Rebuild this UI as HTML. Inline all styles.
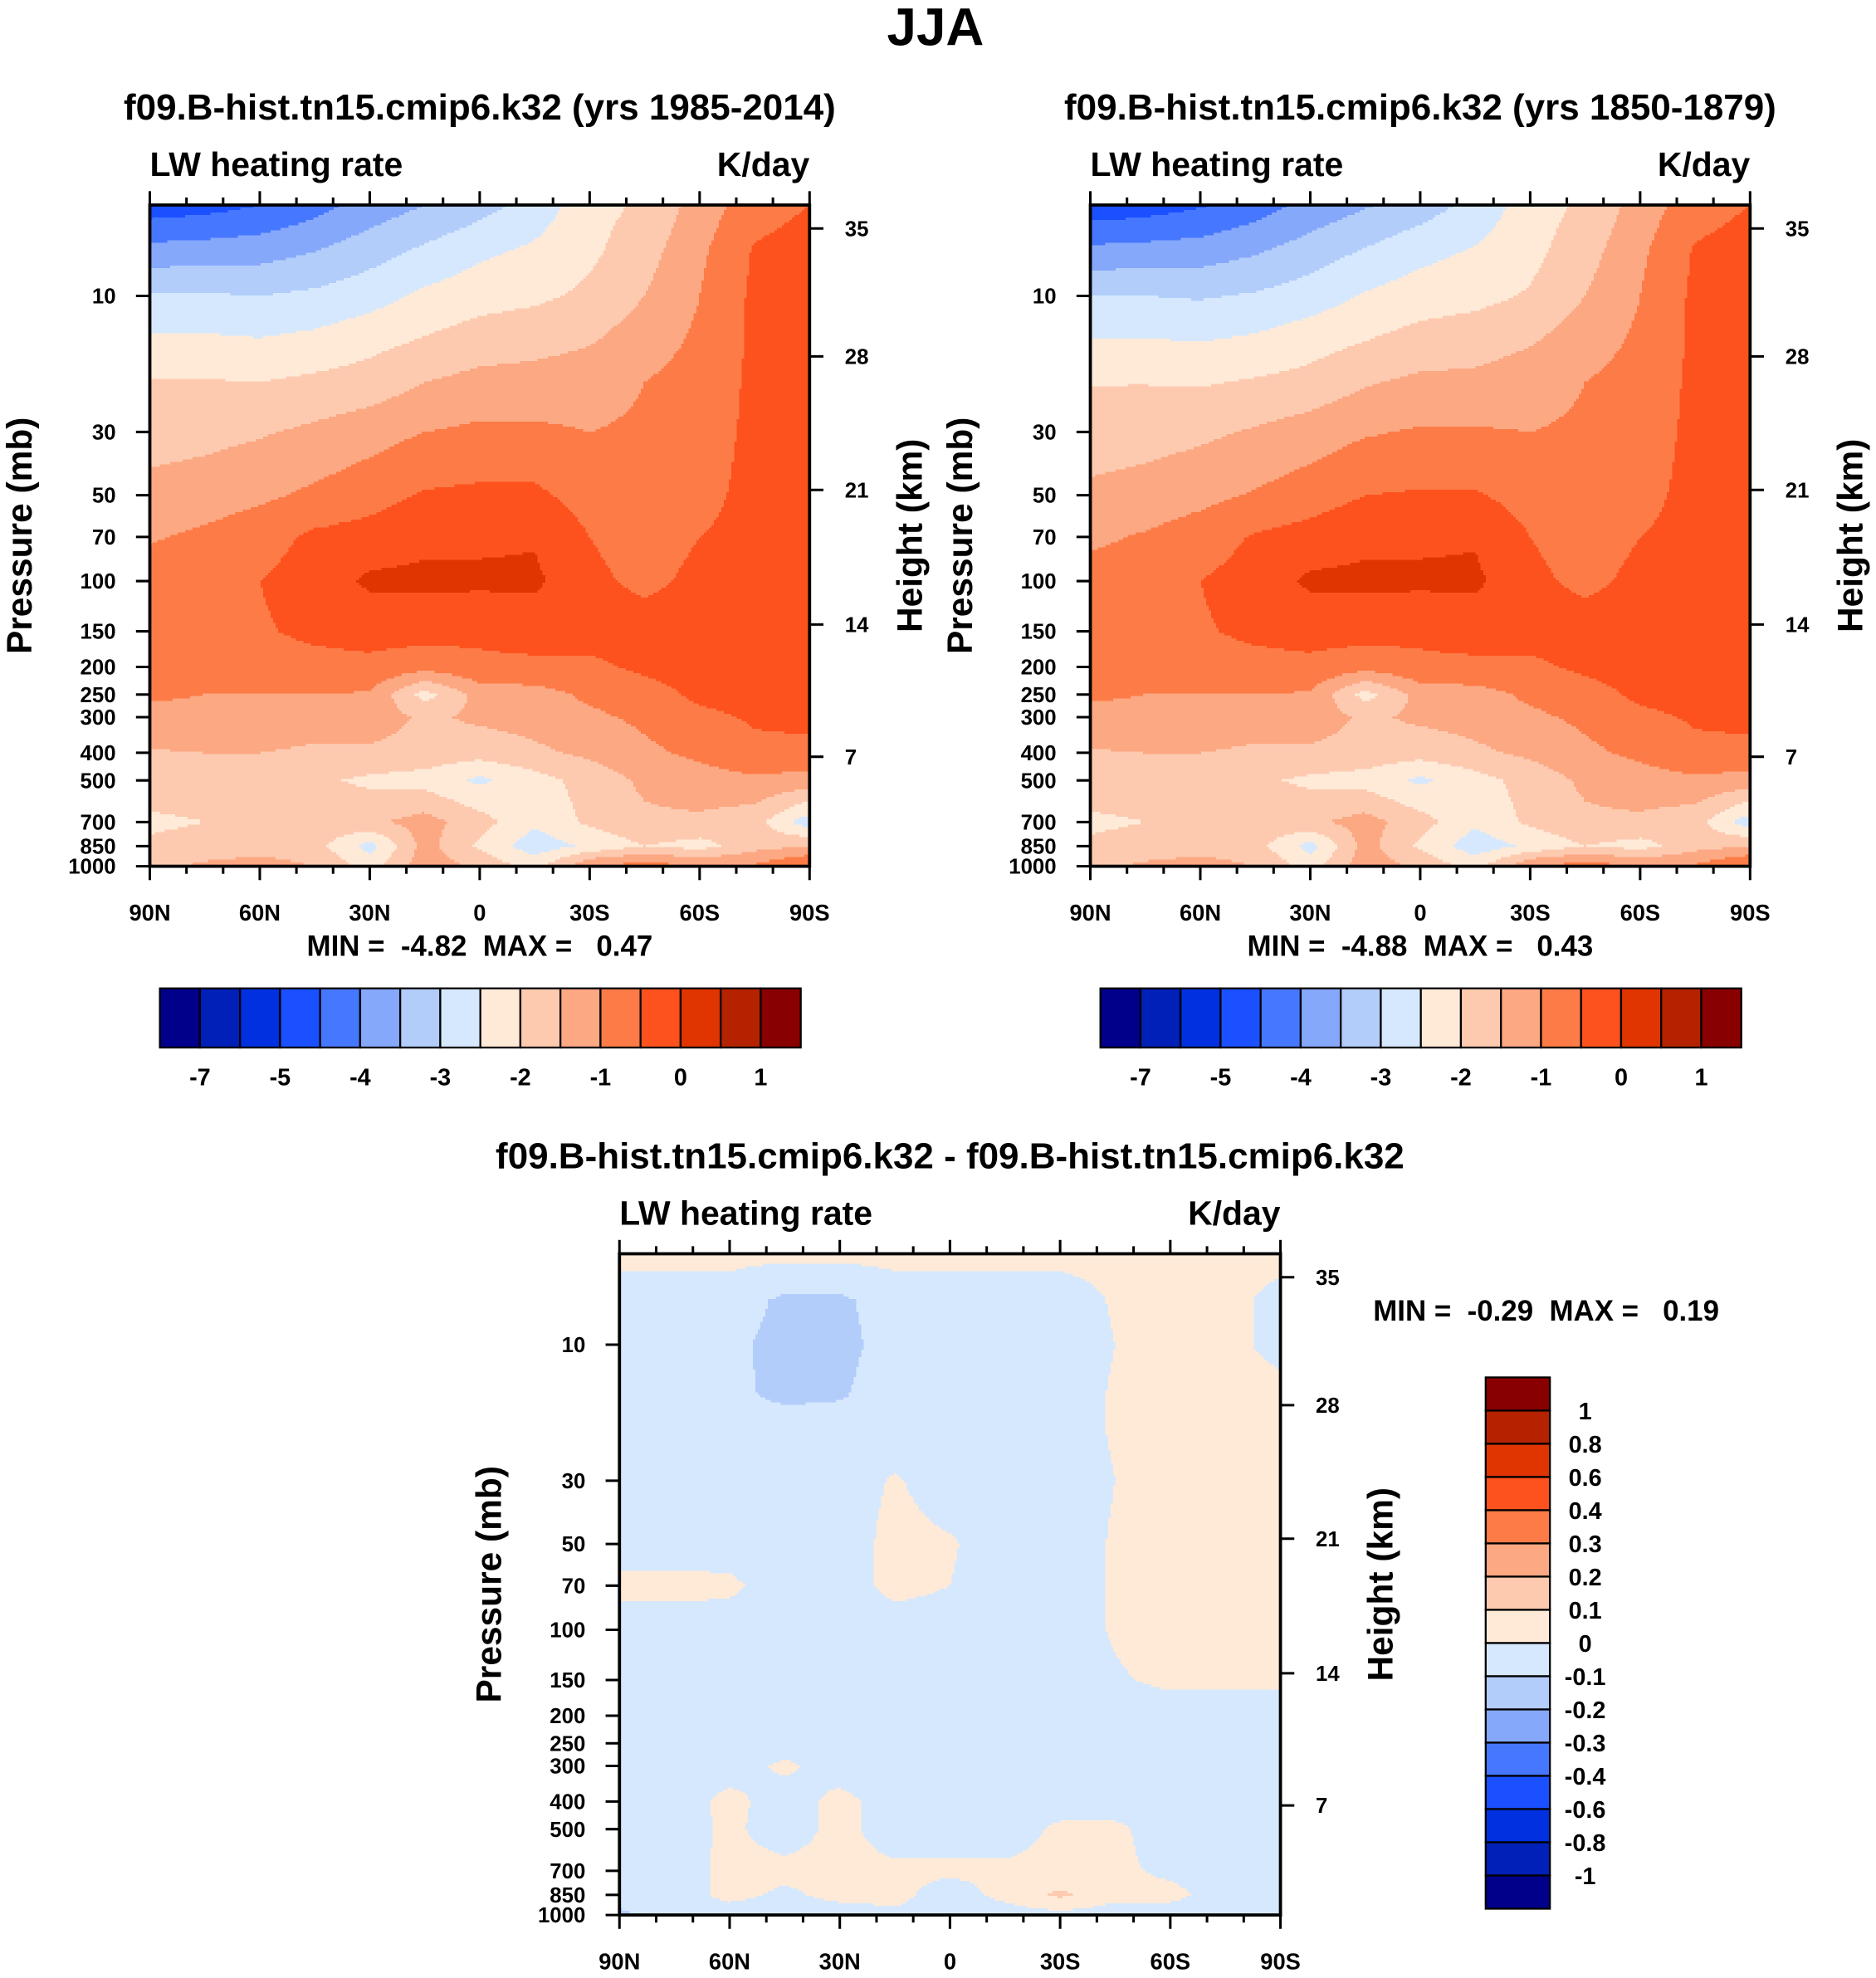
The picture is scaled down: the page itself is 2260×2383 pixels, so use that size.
<!DOCTYPE html>
<html><head><meta charset="utf-8"><style>
html,body{margin:0;padding:0;background:#fff}
svg{display:block}
text{font-family:"Liberation Sans",sans-serif;font-weight:bold;fill:#000;white-space:pre}
</style></head><body>
<svg id="root" xmlns="http://www.w3.org/2000/svg" width="2260" height="2383" viewBox="0 0 1490 1571">
<rect width="1490" height="1571" fill="#fff"/>
<text x="743" y="36" font-size="42" text-anchor="middle">JJA</text>
</svg>
<script>
// ---- data ----
const lats = ["90N","75N","60N","45N","30N","15N","0","15S","30S","45S","60S","75S","90S"];
const levels = [4.8,7,10,15,20,30,50,70,100,150,200,250,300,400,500,700,850,1000];
const fullBounds = [-7,-6,-5,-4.5,-4,-3.5,-3,-2.5,-2,-1.5,-1,-0.5,0,0.5,1];
const fullBoundLabels = ["-7","","-5","","-4","","-3","","-2","","-1","","0","","1"];
const diffBounds = [-1,-0.8,-0.6,-0.4,-0.3,-0.2,-0.1,0,0.1,0.2,0.3,0.4,0.6,0.8,1];
const diffBoundLabels = ["-1","-0.8","-0.6","-0.4","-0.3","-0.2","-0.1","0","0.1","0.2","0.3","0.4","0.6","0.8","1"];
const palette = ["#00008a","#0020b8","#0030e0","#1a50ff","#4677ff","#85a8fb","#b3cdfb","#d6e8fd","#ffead8","#fdcab0","#fca882","#fd7b47","#fd521d","#e03500","#b52200","#890000"];
const xTickLabels = ["90N","60N","30N","0","30S","60S","90S"];
const pTickValues = [10,30,50,70,100,150,200,250,300,400,500,700,850,1000];
const hTickLabels = ["35","28","21","14","7"];
const hTickPressure = [5.8,16.3,47.9,142,413];

const field1 = [
[-4.8,-4.7,-4.5,-4.2,-3.8,-3.5,-3.2,-2.8,-2.2,-1.9,-1.3,-0.7,-0.5],
[-3.8,-3.75,-3.7,-3.5,-3.2,-2.9,-2.6,-2.4,-2.1,-1.7,-1.1,-0.45,-0.3],
[-2.95,-2.95,-3.0,-2.9,-2.7,-2.4,-2.2,-2.1,-1.9,-1.5,-1.0,-0.4,-0.3],
[-2.35,-2.35,-2.4,-2.3,-2.1,-1.9,-1.7,-1.6,-1.5,-1.2,-0.9,-0.4,-0.3],
[-1.97,-1.97,-2.0,-1.9,-1.8,-1.5,-1.35,-1.35,-1.3,-1.0,-0.8,-0.4,-0.3],
[-1.7,-1.65,-1.55,-1.4,-1.2,-1.0,-0.9,-0.9,-1.0,-0.9,-0.7,-0.4,-0.3],
[-1.35,-1.25,-1.1,-0.9,-0.7,-0.45,-0.4,-0.4,-0.7,-0.8,-0.6,-0.4,-0.3],
[-1.05,-0.9,-0.7,-0.4,-0.3,-0.1,-0.1,-0.05,-0.5,-0.7,-0.5,-0.4,-0.3],
[-0.75,-0.65,-0.5,-0.3,0.1,0.1,0.1,0.1,-0.4,-0.6,-0.4,-0.35,-0.3],
[-0.7,-0.6,-0.55,-0.4,-0.35,-0.3,-0.4,-0.3,-0.3,-0.3,-0.3,-0.3,-0.3],
[-0.75,-0.75,-0.7,-0.65,-0.6,-0.8,-0.6,-0.6,-0.6,-0.4,-0.3,-0.3,-0.3],
[-0.95,-1.0,-1.0,-1.0,-1.05,-2.2,-1.3,-1.2,-0.9,-0.7,-0.4,-0.35,-0.3],
[-1.1,-1.1,-1.1,-1.2,-1.2,-1.6,-1.4,-1.3,-1.1,-0.9,-0.6,-0.45,-0.4],
[-1.55,-1.5,-1.5,-1.6,-1.6,-1.7,-1.8,-1.6,-1.4,-1.1,-0.9,-0.6,-0.6],
[-1.7,-1.7,-1.7,-1.9,-2.1,-2.2,-2.6,-2.2,-1.8,-1.4,-1.2,-1.1,-1.2],
[-2.1,-2.0,-1.9,-1.7,-1.6,-1.3,-1.8,-2.4,-1.9,-1.6,-1.6,-1.8,-2.8],
[-1.9,-1.8,-1.7,-1.8,-2.7,-1.3,-2.1,-2.8,-2.4,-2.0,-2.2,-1.7,-1.5],
[-1.6,-1.4,-1.3,-1.5,-2.2,-1.2,-1.6,-2.2,-1.0,-0.7,-1.0,-0.9,-0.4]];

const field2 = [
[-4.85,-4.75,-4.55,-4.25,-3.85,-3.55,-3.25,-2.85,-2.25,-1.9,-1.3,-0.7,-0.5],
[-3.85,-3.8,-3.75,-3.55,-3.25,-2.95,-2.65,-2.45,-2.15,-1.7,-1.1,-0.45,-0.3],
[-3.0,-3.0,-3.05,-2.95,-2.75,-2.45,-2.25,-2.15,-1.95,-1.5,-1.0,-0.4,-0.3],
[-2.4,-2.4,-2.45,-2.35,-2.15,-1.95,-1.75,-1.65,-1.5,-1.2,-0.9,-0.4,-0.3],
[-2.02,-2.02,-2.05,-1.95,-1.85,-1.55,-1.4,-1.4,-1.3,-1.0,-0.8,-0.4,-0.3],
[-1.75,-1.7,-1.6,-1.45,-1.25,-1.05,-0.95,-0.95,-1.0,-0.9,-0.7,-0.4,-0.3],
[-1.4,-1.3,-1.15,-0.95,-0.75,-0.5,-0.45,-0.45,-0.7,-0.8,-0.6,-0.4,-0.3],
[-1.1,-0.95,-0.75,-0.45,-0.3,-0.1,-0.1,-0.05,-0.5,-0.7,-0.5,-0.4,-0.3],
[-0.8,-0.7,-0.5,-0.3,0.1,0.1,0.1,0.1,-0.4,-0.6,-0.4,-0.35,-0.3],
[-0.7,-0.6,-0.55,-0.4,-0.35,-0.3,-0.4,-0.3,-0.3,-0.3,-0.3,-0.3,-0.3],
[-0.75,-0.75,-0.7,-0.65,-0.6,-0.8,-0.6,-0.6,-0.6,-0.4,-0.3,-0.3,-0.3],
[-0.95,-1.0,-1.0,-1.0,-1.05,-2.2,-1.3,-1.2,-0.9,-0.7,-0.4,-0.35,-0.3],
[-1.1,-1.1,-1.1,-1.2,-1.2,-1.6,-1.4,-1.3,-1.1,-0.9,-0.6,-0.45,-0.4],
[-1.55,-1.5,-1.5,-1.6,-1.6,-1.7,-1.8,-1.6,-1.4,-1.1,-0.9,-0.6,-0.6],
[-1.7,-1.7,-1.7,-1.9,-2.1,-2.2,-2.6,-2.2,-1.8,-1.4,-1.2,-1.1,-1.2],
[-2.1,-2.0,-1.9,-1.7,-1.6,-1.3,-1.8,-2.4,-1.9,-1.6,-1.6,-1.8,-2.8],
[-1.9,-1.8,-1.7,-1.8,-2.7,-1.3,-2.1,-2.8,-2.4,-2.0,-2.2,-1.7,-1.5],
[-1.6,-1.4,-1.3,-1.5,-2.2,-1.2,-1.6,-2.2,-1.0,-0.7,-1.0,-0.9,-0.4]];

const fieldDiff = [
[0.03,0.03,0.03,0.03,0.03,0.03,0.03,0.03,0.03,0.03,0.03,0.03,0.03],
[-0.05,-0.05,-0.05,-0.12,-0.12,-0.05,-0.05,-0.05,-0.05,0.01,0.03,0.03,-0.03],
[-0.05,-0.05,-0.08,-0.13,-0.13,-0.06,-0.05,-0.05,-0.05,0.0,0.03,0.03,-0.03],
[-0.05,-0.05,-0.08,-0.12,-0.11,-0.05,-0.05,-0.05,-0.05,0.01,0.03,0.03,0.03],
[-0.05,-0.05,-0.05,-0.05,-0.05,-0.05,-0.05,-0.05,-0.05,0.01,0.03,0.03,0.03],
[-0.05,-0.05,-0.05,-0.05,-0.05,0.01,-0.05,-0.05,-0.05,0.0,0.03,0.03,0.03],
[-0.05,-0.05,-0.05,-0.05,-0.05,0.03,0.01,-0.05,-0.05,0.01,0.03,0.03,0.03],
[0.03,0.03,0.02,-0.05,-0.05,0.03,0.0,-0.05,-0.05,0.01,0.03,0.03,0.03],
[-0.05,-0.05,-0.05,-0.05,-0.05,-0.05,-0.05,-0.05,-0.05,0.01,0.03,0.03,0.03],
[-0.05,-0.05,-0.05,-0.05,-0.05,-0.05,-0.05,-0.05,-0.05,-0.01,0.02,0.02,0.02],
[-0.05,-0.05,-0.05,-0.05,-0.05,-0.05,-0.05,-0.05,-0.05,-0.05,-0.05,-0.05,-0.05],
[-0.05,-0.05,-0.05,-0.05,-0.05,-0.05,-0.05,-0.05,-0.05,-0.05,-0.05,-0.05,-0.05],
[-0.05,-0.05,-0.05,0.02,-0.05,-0.05,-0.05,-0.05,-0.05,-0.05,-0.05,-0.05,-0.05],
[-0.05,-0.05,0.03,-0.05,0.03,-0.05,-0.05,-0.05,-0.05,-0.05,-0.05,-0.05,-0.05],
[-0.05,-0.05,0.02,-0.05,0.03,-0.05,-0.05,-0.05,0.02,0.02,-0.05,-0.05,-0.05],
[-0.05,-0.05,0.03,0.03,0.03,0.02,0.02,0.02,0.03,0.02,-0.02,-0.05,-0.05],
[-0.05,-0.05,0.03,-0.02,0.03,0.03,-0.05,0.03,0.12,0.03,0.03,-0.05,-0.05],
[-0.12,-0.05,-0.05,-0.05,-0.05,-0.02,-0.05,-0.05,-0.03,-0.05,-0.05,-0.05,-0.05]];

// ---- drawing ----
const NS = "http://www.w3.org/2000/svg";
const root = document.getElementById('root');
function mk(tag, attrs, parent){const e=document.createElementNS(NS,tag);for(const k in attrs)e.setAttribute(k,attrs[k]);(parent||root).appendChild(e);return e;}
function txt(x,y,s,size,anchor,parent){const t=mk('text',{x:x,y:y,'font-size':size,'text-anchor':anchor||'middle'},parent);t.textContent=s;return t;}

function classify(v,b){let i=0;while(i<b.length&&v>=b[i])i++;return i;}
const logLevels = levels.map(Math.log10);
function sample(field,fx,lp){
  const L=logLevels;
  let j=0;while(j<L.length-2&&lp>L[j+1])j++;
  let ty=(lp-L[j])/(L[j+1]-L[j]);ty=Math.max(0,Math.min(1,ty));
  let i=Math.min(Math.floor(fx),lats.length-2);let tx=fx-i;
  const a=field[j][i]*(1-tx)+field[j][i+1]*tx;
  const b=field[j+1][i]*(1-tx)+field[j+1][i+1]*tx;
  return a*(1-ty)+b*ty;
}

function panel(opt){
  const g=mk('g',{});
  
  
  const x0=opt.x, w=opt.w, yb=opt.yb; const dec=226.5;
  const pToY=p=>yb-(3-Math.log10(p))*dec;
  const yt=pToY(levels[0]);
  const fg=mk('g',{'shape-rendering':'crispEdges'},g);
  
  
  const step=2;
  const xEnd=x0+w;
  for(let y=yt;y<yb;y+=step){
    const yc=Math.min(y+step/2,yb);
    const lp=3-(yb-yc)/dec;
    const h=Math.min(step,yb-y)+0.6;
    let runStart=x0,runC=-1;
    const flush=(xe)=>{if(runC>=0){const r=mk('rect',{x:runStart,y:y,width:Math.min(xe,xEnd)-runStart+0.6,height:h,fill:palette[runC]},fg);
          
          }};
    for(let x=x0;x<xEnd;x+=step){
      const fx=Math.min((x+step/2-x0)/w,1)*(lats.length-1);
      const c=classify(sample(opt.field,fx,lp),opt.bounds);
      if(c!==runC){flush(x);runStart=x;runC=c;}
    }
    flush(xEnd);
  }
  const fr=mk('rect',{x:x0,y:yt,width:w,height:yb-yt,fill:'none',stroke:'#000','stroke-width':2.5},g);
  
  
  for(let k=0;k<=18;k++){
    const x=x0+w*k/18; const major=k%3===0; const L=major?11:6;
    mk('line',{x1:x,x2:x,y1:yt,y2:yt-L,stroke:'#000','stroke-width':2},g);
    mk('line',{x1:x,x2:x,y1:yb,y2:yb+L,stroke:'#000','stroke-width':2},g);
  }
  xTickLabels.forEach((s,k)=>{const t=txt(x0+w*k/6,yb+43,s,18,'middle',g);
    
    });
  pTickValues.forEach(p=>{const y=pToY(p);mk('line',{x1:x0,x2:x0-11,y1:y,y2:y,stroke:'#000','stroke-width':2},g);
    const t=txt(x0-27,y+6,String(p),17,'end',g);
    
    });
  hTickLabels.forEach((s,k)=>{const y=pToY(hTickPressure[k]);mk('line',{x1:x0+w,x2:x0+w+11,y1:y,y2:y,stroke:'#000','stroke-width':2},g);
    const t=txt(x0+w+28,y+6,s,17,'start',g);
    
    });
  const a=txt(x0,yt-23,'LW heating rate',27,'start',g);
  
  
  const u=txt(x0+w,yt-23,'K/day',27,'end',g);
  
  
  const ti=txt(x0+w/2,yt-68,opt.title,29,'middle',g);
  
  
  const yc=(yt+yb)/2;
  const py=txt(0,0,'Pressure (mb)',28,'middle',g);py.setAttribute('transform',`translate(${x0-94},${yc}) rotate(-90)`);
  
  
  const hy=txt(0,0,'Height (km)',28,'middle',g);hy.setAttribute('transform',`translate(${x0+w+89},${yc}) rotate(-90)`);
  
  
  return g;
}

function hbar(x,y,w,h,name){
  const g=mk('g',{});
  
  
  const bw=w/16;
  palette.forEach((c,i)=>{const r=mk('rect',{x:x+i*bw,y:y,width:bw,height:h,fill:c,stroke:'#000','stroke-width':1.5},g);
    
    });
  fullBoundLabels.forEach((s,i)=>{if(!s)return;const t=txt(x+(i+1)*bw,y+h+30,s,19,'middle',g);
    
    });
}
function vbar(x,y,w,h,name){
  const g=mk('g',{});
  
  
  const bh=h/16;
  palette.slice().reverse().forEach((c,i)=>{const r=mk('rect',{x:x,y:y+i*bh,width:w,height:bh,fill:c,stroke:'#000','stroke-width':1.5},g);
    
    });
  diffBoundLabels.slice().reverse().forEach((s,i)=>{const t=txt(x+w+28,y+(i+1)*bh+7,s,19,'middle',g);
    
    });
}

panel({name:'panel-1985-2014',x:119,w:524,yb:688,field:field1,bounds:fullBounds,title:'f09.B-hist.tn15.cmip6.k32 (yrs 1985-2014)'});
panel({name:'panel-1850-1879',x:866,w:524,yb:688,field:field2,bounds:fullBounds,title:'f09.B-hist.tn15.cmip6.k32 (yrs 1850-1879)'});
panel({name:'panel-difference',x:492,w:525,yb:1521,field:fieldDiff,bounds:diffBounds,title:'f09.B-hist.tn15.cmip6.k32 - f09.B-hist.tn15.cmip6.k32'});

let t;
t=txt(381,759,'MIN =  -4.82  MAX =   0.47',23,'middle');


t=txt(1128,759,'MIN =  -4.88  MAX =   0.43',23,'middle');


t=txt(1228,1049,'MIN =  -0.29  MAX =   0.19',23,'middle');



hbar(127,785,509,47,'colorbar-1');
hbar(874,785,509,47,'colorbar-2');
vbar(1180,1094,51,422,'colorbar-diff');
</script>
</body></html>
